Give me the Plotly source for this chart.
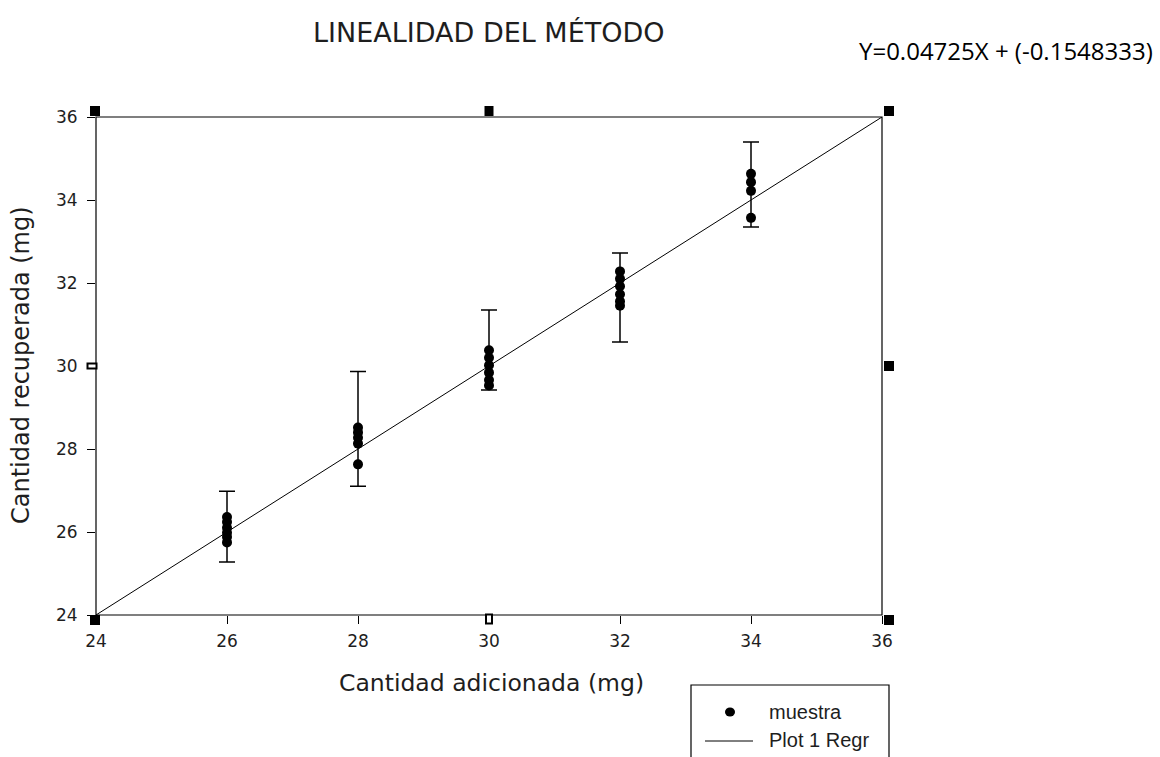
import plotly.graph_objects as go

# Added amount levels (mg) and recovered amounts per replicate (mg)
levels = [26, 28, 30, 32, 34]
recovered = [
    [26.36, 26.24, 26.10, 25.98, 25.88, 25.75],
    [28.52, 28.40, 28.27, 28.13, 27.63],
    [30.38, 30.20, 30.02, 29.84, 29.66, 29.53],
    [32.28, 32.10, 31.92, 31.73, 31.56, 31.45],
    [34.63, 34.43, 34.22, 33.57],
]
# Error bar limits per level
err_top = [26.98, 29.87, 31.35, 32.72, 35.40]
err_bottom = [25.28, 27.10, 29.42, 30.58, 33.35]

# Regression line end points
reg_x = [24, 36]
reg_y = [24, 36]

axis_ticks = [24, 26, 28, 30, 32, 34, 36]

title_text = "LINEALIDAD DEL MÉTODO"
equation_text = "Y=0.04725X + (-0.1548333)"
x_title = "Cantidad adicionada (mg)"
y_title = "Cantidad recuperada (mg)"
legend_names = ["muestra", "Plot 1 Regr"]

FONT = "DejaVu Sans, Arial, sans-serif"
LEG_FONT = "Liberation Sans, Arial, sans-serif"
TXT = "#1e1e1e"

XMIN, XMAX, YMIN, YMAX = 24, 36, 24, 36
L, R, T, B = 96, 278, 117, 142
PW, PH = 1160 - L - R, 757 - T - B

fig = go.Figure()

# regression line
fig.add_trace(go.Scatter(x=reg_x, y=reg_y, mode="lines",
                         line=dict(color="black", width=1), showlegend=False,
                         hoverinfo="skip"))

# error bars (drawn from limits around the level mean)
centers = [sum(v) / len(v) for v in recovered]
fig.add_trace(go.Scatter(
    x=levels, y=centers, mode="markers",
    marker=dict(color="rgba(0,0,0,0)", size=1),
    error_y=dict(type="data", symmetric=False,
                 array=[t - c for t, c in zip(err_top, centers)],
                 arrayminus=[c - b for c, b in zip(centers, err_bottom)],
                 color="black", thickness=1.5, width=8),
    showlegend=False, hoverinfo="skip"))

# replicate points
xs, ys = [], []
for lv, vals in zip(levels, recovered):
    xs += [lv] * len(vals)
    ys += vals
fig.add_trace(go.Scatter(x=xs, y=ys, mode="markers",
                         marker=dict(color="black", size=10, symbol="circle"),
                         showlegend=False))


def data_to_paper(xv, yv):
    return (xv - XMIN) / (XMAX - XMIN), (yv - YMIN) / (YMAX - YMIN)


def px_x(p):
    return (p - L) / PW


def px_y(p):
    return (757 - B - p) / PH


shapes = []
# frame
shapes.append(dict(type="rect", xref="paper", yref="paper", x0=0, x1=1, y0=0, y1=1,
                   line=dict(color="black", width=1.2), layer="above"))


def square(xv, yv, dx, dy, w, h, filled=True):
    px, py = data_to_paper(xv, yv)
    return dict(type="rect", xref="paper", yref="paper",
                xsizemode="pixel", ysizemode="pixel",
                xanchor=px, yanchor=py,
                x0=dx - w / 2, x1=dx + w / 2, y0=dy - h / 2, y1=dy + h / 2,
                fillcolor="black" if filled else "white",
                line=dict(color="black", width=2 if not filled else 0),
                layer="above")


# frame handle squares
shapes += [
    square(24, 36, -1, 6, 10, 10),
    square(30, 36, 0, 6, 9, 10),
    square(36, 36, 7, 6, 10, 10),
    square(36, 30, 7, 0, 10, 10),
    square(24, 24, -1, -5, 10, 10),
    square(30, 24, 0, -4, 6, 9, filled=False),
    square(36, 24, 7, -5, 10, 10),
    square(24, 30, -4, 0, 9, 5, filled=False),
]

# legend box
shapes.append(dict(type="rect", xref="paper", yref="paper",
                   x0=px_x(691), x1=px_x(889), y0=px_y(790), y1=px_y(685),
                   line=dict(color="black", width=1.2), fillcolor="white"))
shapes.append(dict(type="line", xref="paper", yref="paper",
                   x0=px_x(705), x1=px_x(753), y0=px_y(741), y1=px_y(741),
                   line=dict(color="black", width=1)))
shapes.append(dict(type="circle", xref="paper", yref="paper",
                   xsizemode="pixel", ysizemode="pixel",
                   xanchor=px_x(730), yanchor=px_y(712),
                   x0=-5, x1=5, y0=-4.5, y1=4.5,
                   fillcolor="black", line=dict(color="black", width=0)))

annotations = [
    dict(text=title_text, xref="paper", yref="paper",
         x=px_x(489), y=px_y(33), xanchor="center", yanchor="middle",
         showarrow=False, font=dict(family=FONT, size=27, color=TXT)),
    dict(text=equation_text, xref="paper", yref="paper",
         x=px_x(1155), y=px_y(50), xanchor="right", yanchor="middle",
         showarrow=False, font=dict(family="Open Sans, sans-serif", size=24, color="black")),
    dict(text=legend_names[0], xref="paper", yref="paper",
         x=px_x(767), y=px_y(712), xanchor="left", yanchor="middle",
         showarrow=False, font=dict(family=LEG_FONT, size=20, color=TXT)),
    dict(text=legend_names[1], xref="paper", yref="paper",
         x=px_x(767), y=px_y(740), xanchor="left", yanchor="middle",
         showarrow=False, font=dict(family=LEG_FONT, size=20, color=TXT)),
    dict(text=x_title, xref="paper", yref="paper",
         x=px_x(491), y=px_y(683), xanchor="center", yanchor="middle",
         showarrow=False, font=dict(family=FONT, size=23.5, color=TXT)),
    dict(text=y_title, xref="paper", yref="paper", textangle=-90,
         x=px_x(21), y=px_y(365), xanchor="center", yanchor="middle",
         showarrow=False, font=dict(family=FONT, size=24, color=TXT)),
]

fig.update_layout(
    width=1160, height=757,
    margin=dict(l=L, r=R, t=T, b=B, autoexpand=False),
    paper_bgcolor="white", plot_bgcolor="white",
    shapes=shapes, annotations=annotations,
    font=dict(family=FONT, color=TXT),
)
fig.update_xaxes(range=[XMIN, XMAX], tickvals=axis_ticks, ticks="outside", ticklen=8,
                 tickwidth=1.2, tickcolor="black", showgrid=False, zeroline=False,
                 showline=False, ticklabelstandoff=3,
                 tickfont=dict(family=FONT, size=17, color=TXT))
fig.update_yaxes(range=[YMIN, YMAX], tickvals=axis_ticks, ticks="outside", ticklen=8,
                 tickwidth=1.2, tickcolor="black", showgrid=False, zeroline=False,
                 showline=False, ticklabelstandoff=6,
                 tickfont=dict(family=FONT, size=17, color=TXT))

fig.write_html("out.html")
